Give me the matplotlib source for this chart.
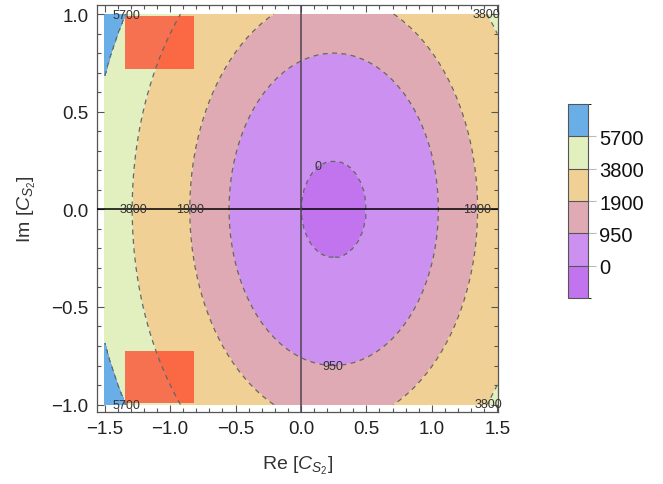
import numpy as np
import matplotlib
matplotlib.use("Agg")
import matplotlib.pyplot as plt
from matplotlib.colors import ListedColormap, BoundaryNorm
from matplotlib.cm import ScalarMappable
from matplotlib.patches import Rectangle
from matplotlib.ticker import MultipleLocator

plt.rcParams['font.family'] = ['Liberation Sans', 'DejaVu Sans']
plt.rcParams['mathtext.fontset'] = 'custom'
plt.rcParams['mathtext.rm'] = 'Liberation Sans'
plt.rcParams['mathtext.it'] = 'Liberation Sans:italic'

# contour levels and the radius of each level curve around the centre
levels = [0, 950, 1900, 3800, 5700]
radii = [0.245, 0.80, 1.10, 1.54, 1.88]
centre = (0.25, 0.0)
colors = ['#c274ee', '#cc90f0', '#e0aab5', '#f1d096', '#e2efbe', '#6aaee8']

# contour labels as they sit in the picture
label_text = ['5700', '5700', '3800', '3800', '3800', '1900', '1900', '0', '950']
label_x = [-1.337, -1.337, 1.42, 1.43, -1.283, -0.851, 1.342, 0.128, 0.247]
label_y = [0.995, -1.0, 1.0, -0.995, 0.0, 0.0, 0.0, 0.22, -0.80]

# highlighted boxes
box_re = [(-1.345, -0.815), (-1.345, -0.815)]
box_im = [(0.72, 0.99), (-0.99, -0.725)]

re = np.linspace(-1.5, 1.5, 601)
im = np.linspace(-1.0, 1.0, 401)
RE, IM = np.meshgrid(re, im)
r = np.hypot(RE - centre[0], IM - centre[1])
Z = np.interp(r, radii, levels, left=-950, right=7600)

fig = plt.figure(figsize=(6.63, 4.85), dpi=100)
ax = fig.add_axes([0.1463, 0.1485, 0.6043, 0.839])

fill_levels = [-1000] + levels + [8000]
ax.contourf(RE, IM, Z, levels=fill_levels, colors=colors)

for (x0, x1), (y0, y1) in zip(box_re, box_im):
    ax.add_patch(Rectangle((x0, y0), x1 - x0, y1 - y0, facecolor='#ff3c22',
                           alpha=0.7, edgecolor='none', zorder=2))

ax.contour(RE, IM, Z, levels=levels, colors='#666666', linewidths=0.9,
           linestyles=[(0, (4, 3.5))], zorder=3)

ax.axhline(0, color='black', lw=1.1, zorder=4)
ax.axvline(0, color='#4d4452', lw=1.1, zorder=4)

for t, x, y in zip(label_text, label_x, label_y):
    ax.text(x, y, t, fontsize=9, color='#333333', ha='center', va='center', zorder=5)

ax.set_xlim(-1.559, 1.503)
ax.set_ylim(-1.038, 1.046)

ax.xaxis.set_major_locator(MultipleLocator(0.5))
ax.xaxis.set_minor_locator(MultipleLocator(0.1))
ax.yaxis.set_major_locator(MultipleLocator(0.5))
ax.yaxis.set_minor_locator(MultipleLocator(0.1))
ax.tick_params(which='both', direction='in', top=True, right=True, color='#555555',
               width=0.8, labelsize=13.5, labelcolor='#222222')
ax.tick_params(which='major', length=5, pad=6)
ax.tick_params(which='minor', length=3)
ax.xaxis.set_major_formatter(plt.FuncFormatter(lambda v, p: f"{v:.1f}".replace('-', '\u2212')))
ax.yaxis.set_major_formatter(plt.FuncFormatter(lambda v, p: f"{v:.1f}".replace('-', '\u2212')))
for s in ax.spines.values():
    s.set_color('#555555')
    s.set_linewidth(0.9)

ax.set_xlabel(r'Re [$C_{S_2}$]', fontsize=14, color='#333333', labelpad=12)
ax.set_ylabel(r'Im [$C_{S_2}$]', fontsize=14, color='#333333', labelpad=10)

cax = fig.add_axes([0.8567, 0.3835, 0.0302, 0.4])
cmap = ListedColormap(colors)
norm = BoundaryNorm(np.arange(7), 6)
cb = fig.colorbar(ScalarMappable(norm=norm, cmap=cmap), cax=cax,
                  ticks=np.arange(1, 6), drawedges=True)
cb.set_ticklabels([str(v) for v in levels])
cb.outline.set_edgecolor('#555555')
cb.outline.set_linewidth(0.8)
cb.dividers.set_color('#555555')
cb.dividers.set_linewidth(0.8)
cax.tick_params(length=6, width=0.8, color='#bbbbbb', labelsize=14.5, labelcolor='#111111', pad=2)

fig.savefig('out.png', dpi=100)
